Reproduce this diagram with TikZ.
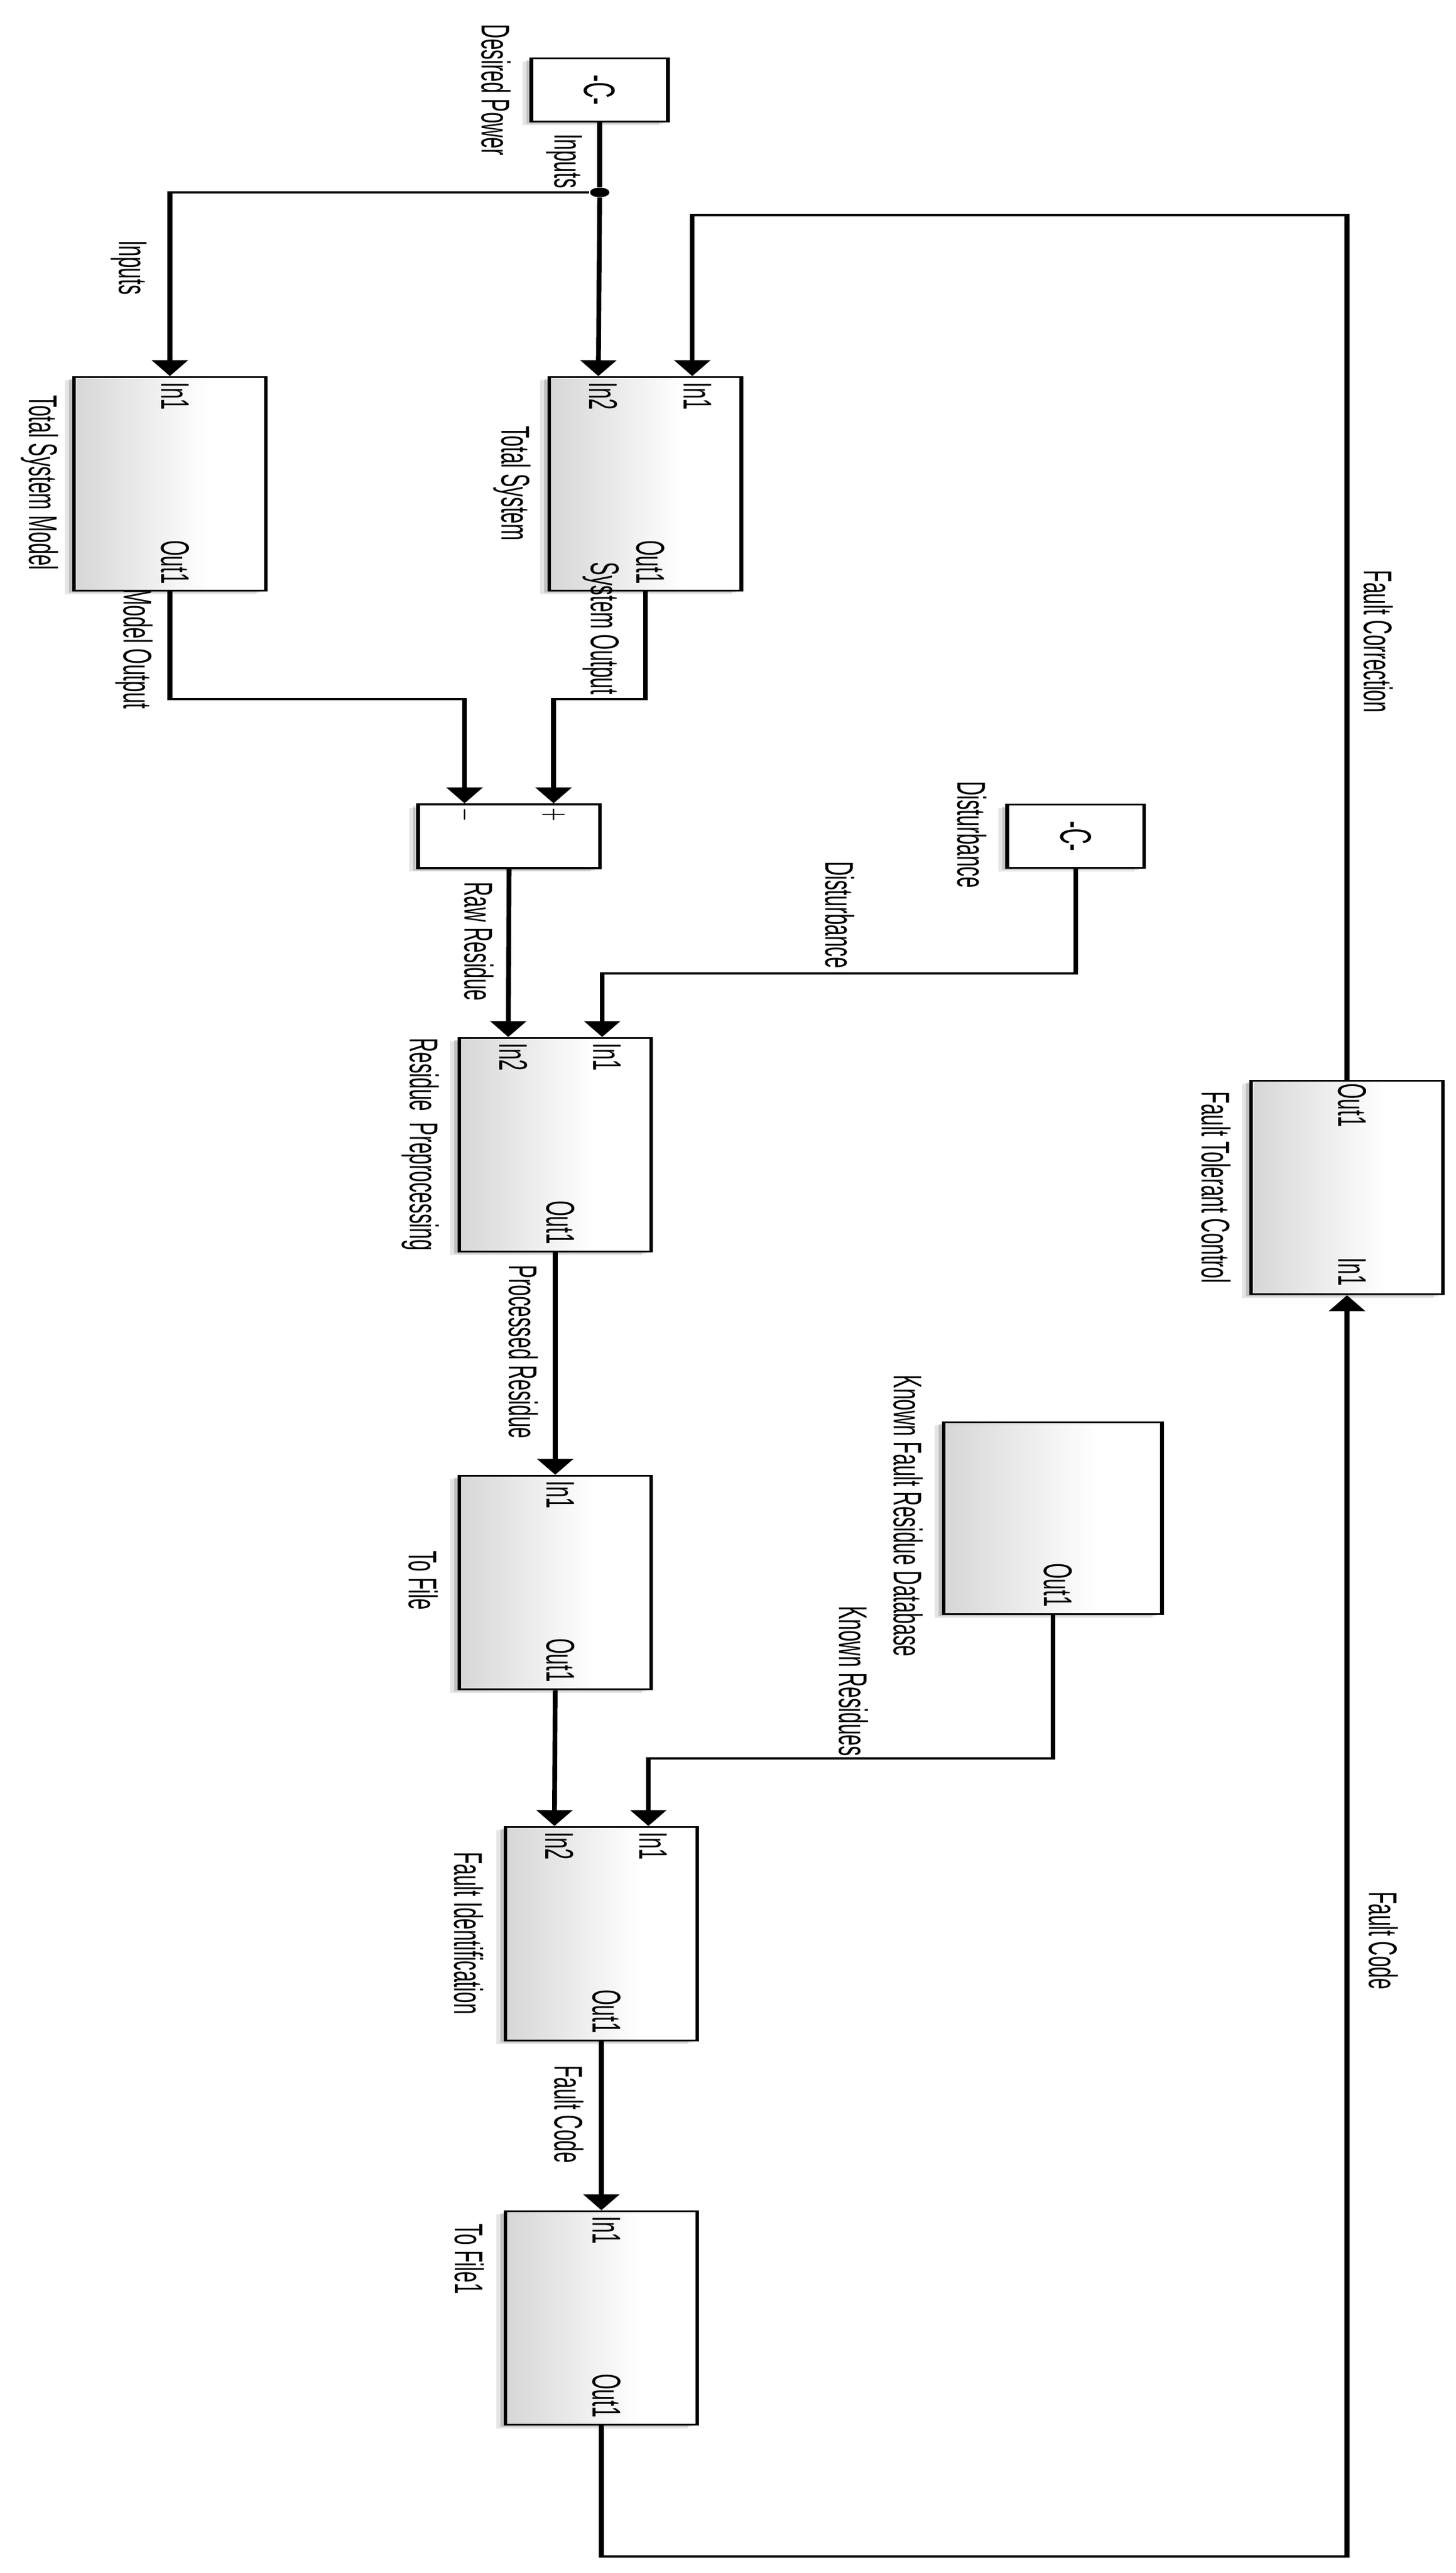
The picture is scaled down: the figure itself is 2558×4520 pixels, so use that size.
\documentclass[tikz,border=0pt]{standalone}
\usepackage{fontspec}
\setmainfont{Liberation Sans}
\usetikzlibrary{arrows.meta,calc,shadows}
\pgfdeclarehorizontalshading{simblock}{100bp}{color(0bp)=(black!16); color(25bp)=(black!16); color(60bp)=(white); color(100bp)=(white)}
\begin{document}
\begin{tikzpicture}[x=0.01cm,y=-0.01cm,
    sig/.style={line width=0.042cm,-{Triangle[width=0.31cm,length=0.28cm]}},
    wire/.style={line width=0.042cm},
    blk/.style={draw,line width=0.033cm,inner sep=0,
      general shadow={fill=black,opacity=.10,shadow xshift=-0.08cm,shadow yshift=-0.06cm},
      general shadow={fill=black,opacity=.16,shadow xshift=-0.045cm,shadow yshift=-0.035cm}},
    subsys/.style={blk,shade,shading=simblock,minimum width=1.685cm,minimum height=3.75cm},
    const/.style={blk,fill=white,minimum width=1.2cm,minimum height=1.11cm},
    sumblk/.style={blk,fill=white,minimum width=1.595cm,minimum height=1.12cm},
    lbl/.style={rotate=-90,inner sep=0,font=\fontsize{10pt}{12pt}\selectfont},
    port/.style={lbl},
    sign/.style={lbl,font=\fontsize{8pt}{10pt}\selectfont},
    dot/.style={circle,fill,inner sep=0,minimum size=0.17cm}]
  \path[use as bounding box,fill=white] (0,0) rectangle (2558,4520);
  \begin{scope}[x=0.005cm,transform canvas={xscale=2}]
    % blocks
    \node[const] (dp) at (1052,158) {};
    \node[subsys] (tsm) at (298,850) {};
    \node[subsys] (ts) at (1132,850) {};
    \node[sumblk] (sum) at (893,1469) {};
    \node[const] (dist) at (1887,1469) {};
    \node[subsys] (rp) at (974,2011) {};
    \node[subsys] (tf) at (974,2780) {};
    \node[subsys,minimum width=1.915cm,minimum height=3.37cm] (kfrd) at (1847,2667) {};
    \node[subsys] (fi) at (1055,3397) {};
    \node[subsys] (tf1) at (1055,4072) {};
    \node[subsys] (ftc) at (2363,2086) {};
    \node[dot] (jn) at (1052,338) {};
    % ports
    \coordinate (ts-in2) at ($(ts.north west)!.26!(ts.north east)$);
    \coordinate (ts-in1) at ($(ts.north west)!.74!(ts.north east)$);
    \coordinate (sum-in1) at ($(sum.north west)!.26!(sum.north east)$);
    \coordinate (sum-in2) at ($(sum.north west)!.74!(sum.north east)$);
    \coordinate (rp-in2) at ($(rp.north west)!.26!(rp.north east)$);
    \coordinate (rp-in1) at ($(rp.north west)!.74!(rp.north east)$);
    \coordinate (fi-in2) at ($(fi.north west)!.26!(fi.north east)$);
    \coordinate (fi-in1) at ($(fi.north west)!.74!(fi.north east)$);
    % signals
    \draw[wire] (dp.south) -- (jn);
    \draw[sig] (jn) -- (ts-in2);
    \draw[sig] (jn) -| (tsm.north);
    \draw[sig] (ftc.north) -- ++(0,-1519) -| (ts-in1);
    \draw[sig] (tsm.south) -- ++(0,189) -| (sum-in1);
    \draw[sig] (ts.south) -- ++(0,189) -| (sum-in2);
    \draw[sig] (sum.south) -- (rp-in2);
    \draw[sig] (dist.south) -- ++(0,184) -| (rp-in1);
    \draw[sig] (rp.south) -- (tf.north);
    \draw[sig] (tf.south) -- (fi-in2);
    \draw[sig] (kfrd.south) -- ++(0,252) -| (fi-in1);
    \draw[sig] (fi.south) -- (tf1.north);
    \draw[sig] (tf1.south) -- ++(0,230) -| (ftc.south);
    % block texts
    \node[lbl,font=\fontsize{11pt}{13pt}\selectfont] (dp-c) at (dp) {-C-};
    \node[lbl,font=\fontsize{11pt}{13pt}\selectfont] (dist-c) at (dist) {-C-};
    \node[sign] (sum-m) at ($(sum-in1)+(0,20)$) {$-$};
    \node[sign] (sum-p) at ($(sum-in2)+(0,20)$) {$+$};
    \node[port,anchor=west] (tsm-i1) at ($(tsm.north)+(9,10)$) {In1};
    \node[port,anchor=east] (tsm-o1) at ($(tsm.south)+(9,-13)$) {Out1};
    \node[port,anchor=west] (ts-i2) at ($(ts-in2)+(9,10)$) {In2};
    \node[port,anchor=west] (ts-i1) at ($(ts-in1)+(9,10)$) {In1};
    \node[port,anchor=east] (ts-o1) at ($(ts.south)+(9,-13)$) {Out1};
    \node[port,anchor=west] (rp-i2) at ($(rp-in2)+(9,10)$) {In2};
    \node[port,anchor=west] (rp-i1) at ($(rp-in1)+(9,10)$) {In1};
    \node[port,anchor=east] (rp-o1) at ($(rp.south)+(9,-14)$) {Out1};
    \node[port,anchor=west] (tf-i1) at ($(tf.north)+(9,10)$) {In1};
    \node[port,anchor=east] (tf-o1) at ($(tf.south)+(9,-14)$) {Out1};
    \node[port,anchor=east] (kfrd-o1) at ($(kfrd.south)+(9,-14)$) {Out1};
    \node[port,anchor=west] (fi-i2) at ($(fi-in2)+(9,10)$) {In2};
    \node[port,anchor=west] (fi-i1) at ($(fi-in1)+(9,10)$) {In1};
    \node[port,anchor=east] (fi-o1) at ($(fi.south)+(9,-14)$) {Out1};
    \node[port,anchor=west] (tf1-i1) at ($(tf1.north)+(9,10)$) {In1};
    \node[port,anchor=east] (tf1-o1) at ($(tf1.south)+(9,-14)$) {Out1};
    \node[port,anchor=west] (ftc-o1) at ($(ftc.north)+(9,6)$) {Out1};
    \node[port,anchor=east] (ftc-i1) at ($(ftc.south)+(9,-16)$) {In1};
    % block names
    \node[lbl] (dp-name) at (870,158) {Desired Power};
    \node[lbl] (tsm-name) at (70,848) {Total System Model};
    \node[lbl] (ts-name) at (898,849) {Total System};
    \node[lbl] (dist-name) at (1705,1466) {Disturbance};
    \node[lbl] (rp-name) at (738,2010) {Residue\ \ Preprocessing};
    \node[lbl] (tf-name) at (743,2776) {To File};
    \node[lbl] (kfrd-name) at (1593,2663) {Known Fault Residue Database};
    \node[lbl] (fi-name) at (822,3396) {Fault Identification};
    \node[lbl] (tf1-name) at (823,3968) {To File1};
    \node[lbl] (ftc-name) at (2133,2086) {Fault Tolerant Control};
    % signal names
    \node[lbl] (s-inputs) at (990,283) {Inputs};
    \node[lbl] (s-inputs2) at (226,470) {Inputs};
    \node[lbl] (s-model) at (235,1140) {Model Output};
    \node[lbl] (s-system) at (1054,1104) {System Output};
    \node[lbl] (s-corr) at (2418,1127) {Fault Correction};
    \node[lbl] (s-dist) at (1473,1607) {Disturbance};
    \node[lbl] (s-raw) at (840,1654) {Raw Residue};
    \node[lbl] (s-proc) at (918,2375) {Processed Residue};
    \node[lbl] (s-known) at (1497,2953) {Known Residues};
    \node[lbl] (s-code) at (998,3714) {Fault Code};
    \node[lbl] (s-code2) at (2427,3409) {Fault Code};
  \end{scope}
\end{tikzpicture}
\end{document}
